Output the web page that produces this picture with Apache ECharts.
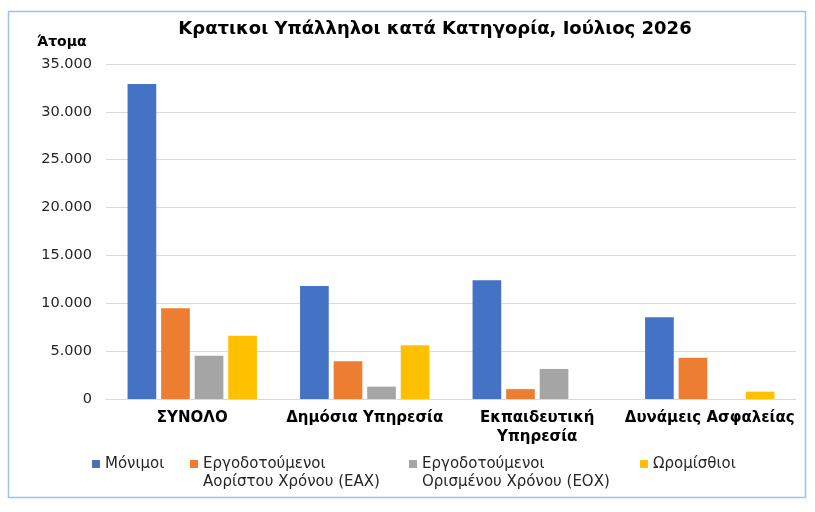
<!DOCTYPE html>
<html>
<head>
<meta charset="utf-8">
<script src="https://cdn.jsdelivr.net/npm/echarts@6/dist/echarts.min.js"></script>
<style>
html,body{margin:0;padding:0;background:#fff;}
#c{width:815px;height:512px;}
</style>
</head>
<body>
<div id="c"></div>
<script>
var categories = ['ΣΥΝΟΛΟ', 'Δημόσια Υπηρεσία', 'Εκπαιδευτική\nΥπηρεσία', 'Δυνάμεις Ασφαλείας'];
var seriesNames = ['Μόνιμοι', 'Εργοδοτούμενοι\nΑορίστου Χρόνου (ΕΑΧ)', 'Εργοδοτούμενοι\nΟρισμένου Χρόνου (ΕΟΧ)', 'Ωρομίσθιοι'];
var monimoi = [32900, 11800, 12400, 8550];
var eax = [9480, 3950, 1030, 4300];
var eox = [4530, 1290, 3140, 0];
var oromisthioi = [6620, 5610, 0, 770];
var yTicks = [0, 5000, 10000, 15000, 20000, 25000, 30000, 35000];
var titleText = 'Κρατικοι Υπάλληλοι κατά Κατηγορία, Ιούλιος 2026';
var yName = 'Άτομα';

var colors = ['#4472C4', '#ED7D31', '#A5A5A5', '#FFC000'];
var values = [monimoi, eax, eox, oromisthioi];
var FONT = 'DejaVu Sans';
var LH = 18.5;

function fmt(v) {
  return String(v).replace(/\B(?=(\d{3})+(?!\d))/g, '.');
}

var legendLeft = [92, 190, 409, 640];
var legends = seriesNames.map(function (n, i) {
  var multi = n.indexOf('\n') >= 0;
  return {
    data: [n],
    left: legendLeft[i],
    top: multi ? 464 - LH * 1.5 : 464 - LH / 2,
    padding: 0,
    icon: 'rect',
    itemWidth: 8,
    itemHeight: 8,
    selectedMode: false,
    formatter: function (name) { return multi ? ' \n' + name : name; },
    textStyle: {
      fontFamily: FONT,
      fontSize: 15,
      color: '#262626',
      lineHeight: LH
    }
  };
});

var chart = echarts.init(document.getElementById('c'), null, {renderer: 'canvas'});
chart.setOption({
  animation: false,
  color: colors,
  title: {
    text: titleText,
    left: 435,
    textAlign: 'center',
    top: 20,
    padding: 0,
    textStyle: {fontFamily: FONT, fontSize: 18, fontWeight: 'bold', color: '#000'}
  },
  graphic: [{
    type: 'rect',
    shape: {x: 8.5, y: 11.5, width: 797, height: 486},
    style: {fill: 'none', stroke: '#9DC3E6', lineWidth: 1.5},
    silent: true
  }, {
    type: 'text',
    left: 37,
    top: 35,
    style: {text: yName, font: 'bold 14px "DejaVu Sans"', fill: '#000'}
  }],
  legend: legends,
  grid: {left: 106, right: 19, top: 64, bottom: 113, containLabel: false},
  xAxis: {
    type: 'category',
    data: categories,
    axisTick: {show: false},
    axisLine: {lineStyle: {color: '#D9D9D9', width: 1}},
    axisLabel: {
      interval: 0,
      margin: 10,
      fontFamily: FONT,
      fontSize: 15,
      fontWeight: 'bold',
      color: '#000',
      lineHeight: 19
    }
  },
  yAxis: {
    type: 'value',
    min: yTicks[0],
    max: yTicks[yTicks.length - 1],
    interval: yTicks[1] - yTicks[0],
    axisLine: {show: false},
    axisTick: {show: false},
    splitLine: {lineStyle: {color: '#D9D9D9', width: 1}},
    axisLabel: {
      margin: 14,
      fontFamily: FONT,
      fontSize: 14.5,
      color: '#262626',
      formatter: fmt
    }
  },
  series: seriesNames.map(function (n, i) {
    return {
      name: n,
      type: 'bar',
      data: values[i],
      barGap: '17%',
      barCategoryGap: '25%',
      itemStyle: {color: colors[i]}
    };
  })
});
</script>
</body>
</html>
